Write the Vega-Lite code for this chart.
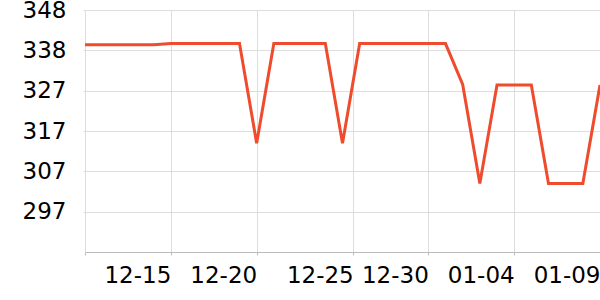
{
  "$schema": "https://vega.github.io/schema/vega-lite/v6.json",
  "width": 515,
  "height": 242,
  "autosize": {"type": "none"},
  "padding": {"left": 85, "top": 10, "right": 0, "bottom": 48},
  "background": "white",
  "config": {"view": {"stroke": null}, "font": "DejaVu Sans"},
  "data": {"values": [
    {"date": "2023-12-10", "value": 339.0},
    {"date": "2023-12-11", "value": 339.0},
    {"date": "2023-12-12", "value": 339.0},
    {"date": "2023-12-13", "value": 339.0},
    {"date": "2023-12-14", "value": 339.0},
    {"date": "2023-12-15", "value": 339.3},
    {"date": "2023-12-16", "value": 339.3},
    {"date": "2023-12-17", "value": 339.3},
    {"date": "2023-12-18", "value": 339.3},
    {"date": "2023-12-19", "value": 339.3},
    {"date": "2023-12-20", "value": 314.2},
    {"date": "2023-12-21", "value": 339.3},
    {"date": "2023-12-22", "value": 339.3},
    {"date": "2023-12-23", "value": 339.3},
    {"date": "2023-12-24", "value": 339.3},
    {"date": "2023-12-25", "value": 314.2},
    {"date": "2023-12-26", "value": 339.3},
    {"date": "2023-12-27", "value": 339.3},
    {"date": "2023-12-28", "value": 339.3},
    {"date": "2023-12-29", "value": 339.3},
    {"date": "2023-12-30", "value": 339.3},
    {"date": "2023-12-31", "value": 339.3},
    {"date": "2024-01-01", "value": 329.0},
    {"date": "2024-01-02", "value": 304.1},
    {"date": "2024-01-03", "value": 328.9},
    {"date": "2024-01-04", "value": 328.9},
    {"date": "2024-01-05", "value": 328.9},
    {"date": "2024-01-06", "value": 304.1},
    {"date": "2024-01-07", "value": 304.1},
    {"date": "2024-01-08", "value": 304.1},
    {"date": "2024-01-09", "value": 328.9}
  ]},
  "mark": {"type": "line", "color": "#ef4b2d", "strokeWidth": 3, "clip": true},
  "encoding": {
    "x": {
      "field": "date",
      "type": "temporal",
      "scale": {"type": "utc", "nice": false},
      "axis": {
        "title": null,
        "values": [
          {"year": 2023, "month": 12, "date": 10, "utc": true},
          {"year": 2023, "month": 12, "date": 15, "utc": true},
          {"year": 2023, "month": 12, "date": 20, "utc": true},
          {"year": 2023, "month": 12, "date": 25, "hours": 15, "utc": true},
          {"year": 2023, "month": 12, "date": 30, "utc": true},
          {"year": 2024, "month": 1, "date": 4, "utc": true},
          {"year": 2024, "month": 1, "date": 9, "utc": true}
        ],
        "labelExpr": "utcFormat(datum.value, '%m-%d') == '12-10' ? '' : utcFormat(datum.value, '%m-%d')",
        "labelAlign": "right",
        "labelBound": false,
        "labelOverlap": false,
        "labelFlush": false,
        "labelFontSize": 23,
        "labelColor": "#000000",
        "labelPadding": 9,
        "tickSize": 3,
        "tickColor": "#bbbbbb",
        "domainColor": "#bbbbbb",
        "grid": true,
        "gridColor": "#dddddd"
      }
    },
    "y": {
      "field": "value",
      "type": "quantitative",
      "scale": {"domain": [286.85, 347.75], "nice": false, "zero": false},
      "axis": {
        "title": null,
        "values": [297.0, 307.15, 317.3, 327.45, 337.6, 347.75],
        "format": ".0f",
        "labelFontSize": 23,
        "labelColor": "#000000",
        "labelPadding": 17,
        "tickSize": 2,
        "tickColor": "#dddddd",
        "domainColor": "#dddddd",
        "grid": true,
        "gridColor": "#dddddd"
      }
    }
  }
}
